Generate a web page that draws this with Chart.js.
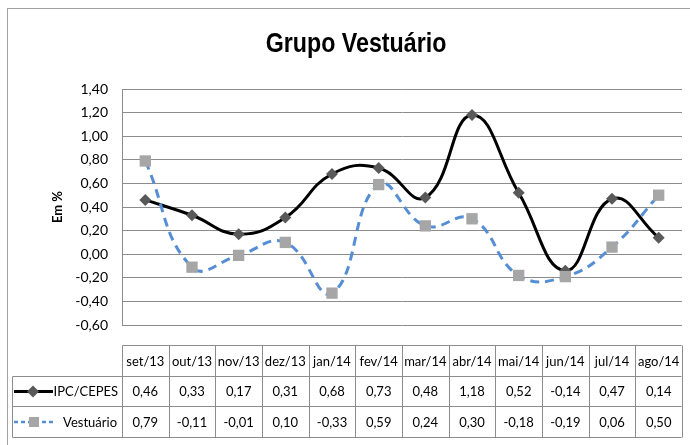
<!DOCTYPE html>
<html>
<head>
<meta charset="utf-8">
<script src="https://cdn.jsdelivr.net/npm/chart.js@4.4.0/dist/chart.umd.min.js"></script>
<style>
  html, body { margin: 0; padding: 0; background: #fff; }
  #wrap { width: 690px; height: 445px; }
</style>
</head>
<body>
<div id="wrap"><canvas id="grafico" width="690" height="445"></canvas></div>
<script>
const meses = ["set/13", "out/13", "nov/13", "dez/13", "jan/14", "fev/14",
               "mar/14", "abr/14", "mai/14", "jun/14", "jul/14", "ago/14"];
const ipcCepes = [0.46, 0.33, 0.17, 0.31, 0.68, 0.73, 0.48, 1.18, 0.52, -0.14, 0.47, 0.14];
const vestuario = [0.79, -0.11, -0.01, 0.10, -0.33, 0.59, 0.24, 0.30, -0.18, -0.19, 0.06, 0.50];

const fonte = "Lato, 'Liberation Sans', sans-serif";
const corGrade = "#8c8c8c";

function fmt(v) {
    return v.toFixed(2).replace(".", ",");
}

// titulo, moldura e tabela de dados (estilo Excel)
const tabelaPlugin = {
    id: "tabela",
    afterDraw(chart) {
        const ctx = chart.ctx;
        const area = chart.chartArea;
        const xs = chart.scales.x;
        const w = (area.right - area.left) / meses.length;

        ctx.save();
        // moldura externa
        ctx.strokeStyle = "#a0a0a0";
        ctx.lineWidth = 1;
        ctx.strokeRect(7.5, 8.5, 700, 450);

        // titulo (um pouco condensado, como Calibri)
        ctx.save();
        ctx.translate(356, 45);
        ctx.scale(0.86, 1);
        ctx.fillStyle = "#000";
        ctx.font = "bold 27px 'Liberation Sans Narrow', 'Liberation Sans', sans-serif";
        ctx.textAlign = "center";
        ctx.textBaseline = "middle";
        ctx.fillText("Grupo Vestuário", 0, 0);
        ctx.restore();

        // tabela
        const topo = 345, l1 = 376, l2 = 406, base = 437;
        const esq = 12, dir = Math.round(area.right) - 0.5;
        const x0 = Math.round(area.left) + 0.5;
        ctx.strokeStyle = corGrade;
        ctx.beginPath();
        ctx.moveTo(x0, topo + 0.5); ctx.lineTo(dir, topo + 0.5);
        ctx.moveTo(esq + 0.5, l1 + 0.5); ctx.lineTo(dir, l1 + 0.5);
        ctx.moveTo(esq + 0.5, l2 + 0.5); ctx.lineTo(dir, l2 + 0.5);
        ctx.moveTo(esq + 0.5, base + 0.5); ctx.lineTo(dir, base + 0.5);
        ctx.moveTo(esq + 0.5, l1 + 0.5); ctx.lineTo(esq + 0.5, base + 0.5);
        for (let i = 0; i <= meses.length; i++) {
            const xx = Math.round(area.left + i * w) + 0.5;
            ctx.moveTo(xx, topo + 0.5); ctx.lineTo(xx, base + 0.5);
        }
        ctx.stroke();

        ctx.fillStyle = "#000";
        ctx.font = "13px " + fonte;
        ctx.textAlign = "center";
        ctx.textBaseline = "middle";
        meses.forEach((m, i) => {
            const cx = xs.getPixelForValue(i);
            ctx.fillText(m, cx, (topo + l1) / 2 + 1);
            ctx.fillText(fmt(ipcCepes[i]), cx, (l1 + l2) / 2 + 1);
            ctx.fillText(fmt(vestuario[i]), cx, (l2 + base) / 2 + 1);
        });

        // chaves da legenda
        const y1 = (l1 + l2) / 2 + 0.5, y2 = (l2 + base) / 2 + 0.5;
        ctx.strokeStyle = "#000";
        ctx.lineWidth = 3;
        ctx.beginPath();
        ctx.moveTo(14, y1); ctx.lineTo(53, y1);
        ctx.stroke();
        ctx.fillStyle = "#595959";
        ctx.beginPath();
        ctx.moveTo(33, y1 - 6); ctx.lineTo(39, y1); ctx.lineTo(33, y1 + 6); ctx.lineTo(27, y1);
        ctx.closePath();
        ctx.fill();

        ctx.strokeStyle = "#558ed5";
        ctx.lineWidth = 2.5;
        ctx.setLineDash([4, 3]);
        ctx.beginPath();
        ctx.moveTo(14, y2); ctx.lineTo(53, y2);
        ctx.stroke();
        ctx.setLineDash([]);
        ctx.fillStyle = "#a6a6a6";
        ctx.fillRect(29, y2 - 5, 10, 10);

        ctx.fillStyle = "#000";
        ctx.textAlign = "right";
        ctx.fillText("IPC/CEPES", 118, y1 + 0.5);
        ctx.fillText("Vestuário", 117, y2 + 0.5);
        ctx.restore();
    }
};

new Chart(document.getElementById("grafico"), {
    type: "line",
    data: {
        labels: meses,
        datasets: [
            {
                label: "IPC/CEPES",
                data: ipcCepes,
                borderColor: "#000",
                borderWidth: 3,
                tension: 0.45,
                pointStyle: "rectRot",
                pointRadius: 6,
                pointBackgroundColor: "#595959",
                pointBorderColor: "#595959",
                pointBorderWidth: 0,
                order: 1
            },
            {
                label: "Vestuário",
                data: vestuario,
                borderColor: "#558ed5",
                borderWidth: 3,
                borderDash: [9, 6],
                tension: 0.45,
                pointStyle: "rect",
                pointRadius: 8,
                pointBackgroundColor: "#a6a6a6",
                pointBorderColor: "#a6a6a6",
                pointBorderWidth: 0,
                order: 0
            }
        ]
    },
    options: {
        responsive: false,
        animation: false,
        layout: {
            padding: { top: 89, bottom: 120, left: 0, right: 6 }
        },
        plugins: {
            legend: { display: false },
            title: { display: false },
            tooltip: { enabled: false }
        },
        scales: {
            x: {
                display: false,
                offset: true
            },
            y: {
                min: -0.6,
                max: 1.4,
                afterFit: function(scale) { scale.width = 122; },
                ticks: {
                    stepSize: 0.2,
                    padding: 14,
                    color: "#000",
                    font: { family: fonte, size: 14 },
                    callback: v => fmt(v)
                },
                grid: {
                    color: corGrade,
                    drawTicks: false
                },
                border: { display: true, color: corGrade },
                title: {
                    display: true,
                    text: "Em %",
                    color: "#000",
                    font: { family: fonte, size: 13, weight: "bold" },
                    padding: { top: 50, bottom: 0 }
                }
            }
        }
    },
    plugins: [tabelaPlugin]
});
</script>
</body>
</html>
